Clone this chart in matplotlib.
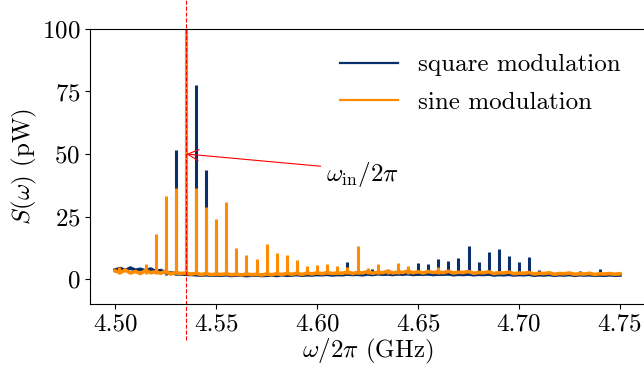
import numpy as np
import matplotlib
matplotlib.use("Agg")
import matplotlib.pyplot as plt

plt.rcParams['font.family'] = 'serif'
plt.rcParams['font.serif'] = ['cmr10']
plt.rcParams['mathtext.fontset'] = 'cm'
plt.rcParams['axes.formatter.use_mathtext'] = True
plt.rcParams['font.size'] = 18

sine_base = [3.2, 2.6, 3.6, 2.4, 3.0, 2.2, 3.4, 2.5, 2.9, 2.3, 3.1, 2.0, 2.6, 2.2, 2.4, 1.9,
             2.3, 1.8, 2.2, 1.7, 2.0, 1.8, 2.1, 1.7, 1.9, 1.6, 2.0, 1.7, 1.9, 1.6, 2.0, 1.7,
             2.1, 1.8, 2.2, 1.9, 2.3, 1.8, 2.4, 2.0, 2.5, 2.1, 2.6, 2.2, 2.4, 2.3, 2.8, 2.2,
             2.6, 2.4, 3.0, 2.3, 2.7, 2.5, 3.1, 2.4, 2.8, 2.6, 3.2, 2.5, 2.9, 2.4, 3.0, 2.6,
             2.8, 2.5, 3.1, 2.4, 2.7, 2.6, 3.0, 2.3, 2.6, 2.5, 2.9, 2.2, 2.5, 2.4, 2.8, 2.1,
             2.4, 2.3, 2.6, 2.0, 2.3, 2.2, 2.5, 1.9, 2.2, 2.1, 2.4, 1.9, 2.1, 2.0, 2.3, 1.8,
             2.1, 2.0, 2.2, 1.9, 2.1]
square_base = [3.6, 4.2, 3.4, 4.4, 3.5, 3.9, 3.2, 4.0, 3.0, 3.4, 2.6, 2.4, 2.2, 2.0, 1.9, 1.8,
               1.7, 1.6, 1.7, 1.5, 1.6, 1.5, 1.7, 1.4, 1.6, 1.5, 1.4, 1.5, 1.6, 1.4, 1.5, 1.6,
               1.4, 1.7, 1.5, 1.6, 1.8, 1.5, 1.7, 1.6, 1.8, 1.7, 1.9, 1.6, 1.8, 1.7, 2.0, 1.8,
               1.9, 1.7, 2.0, 1.8, 2.1, 1.9, 2.0, 1.8, 2.1, 1.9, 2.2, 1.8, 2.0, 1.9, 2.1, 1.8,
               2.0, 1.9, 2.1, 1.7, 1.9, 1.8, 2.0, 1.7, 1.9, 1.8, 2.0, 1.6, 1.8, 1.7, 1.9, 1.6,
               1.8, 1.7, 1.9, 1.5, 1.7, 1.6, 1.8, 1.5, 1.7, 1.6, 1.8, 1.5, 1.7, 1.6, 1.7, 1.5,
               1.6, 1.5, 1.7, 1.5, 1.6]
freq_base = np.linspace(4.50, 4.75, len(sine_base))

# sidebands (GHz) and their peak power (pW)
sine_f = [4.502, 4.515, 4.520, 4.525, 4.530, 4.535, 4.540, 4.545, 4.550, 4.555, 4.560,
          4.565, 4.570, 4.575, 4.580, 4.585, 4.590, 4.595, 4.600, 4.605, 4.610, 4.615,
          4.620, 4.625, 4.630, 4.635, 4.640, 4.645, 4.660]
sine_h = [5.0, 6.2, 18.1, 33.3, 36.6, 105.0, 36.6, 28.7, 23.9, 30.7, 12.6,
          9.8, 8.1, 13.9, 10.4, 9.7, 7.8, 5.4, 5.8, 5.9, 5.4, 4.8,
          13.1, 4.6, 6.2, 4.2, 6.5, 5.2, 4.8]
square_f = [4.525, 4.530, 4.535, 4.540, 4.545, 4.550, 4.555, 4.590, 4.615, 4.627, 4.640,
            4.645, 4.650, 4.655, 4.660, 4.665, 4.670, 4.675, 4.680, 4.685, 4.690, 4.695,
            4.700, 4.705, 4.710, 4.725, 4.730, 4.735, 4.740]
square_h = [8.0, 51.6, 105.0, 77.6, 43.5, 21.0, 8.0, 4.2, 6.9, 4.0, 4.5,
            4.0, 6.5, 6.2, 8.1, 7.4, 8.6, 13.1, 6.9, 11.0, 11.9, 9.4,
            6.9, 9.0, 3.8, 2.9, 3.1, 3.0, 4.0]

f_in = 4.5352

blue = '#0b2f6b'
orange = '#ff8c00'

fig = plt.figure(figsize=(6.44, 3.68), dpi=100)
ax = fig.add_axes([0.1398, 0.1739, 0.8620, 0.7473])

ax.plot(freq_base, square_base, color=blue, lw=2.6, label='square modulation')
ax.vlines(square_f, 1.8, square_h, color=blue, lw=2.2)
ax.plot(freq_base, sine_base, color=orange, lw=2.6, label='sine modulation')
ax.vlines(sine_f, 2.0, sine_h, color=orange, lw=2.2)

ax.axvline(f_in, ymin=-0.13, ymax=1.12, color='red', ls='--', lw=0.8, clip_on=False)

ax.annotate(r'$\omega_{\rm in}/2\pi$', xy=(f_in, 50), xytext=(4.6045, 42),
            ha='left', va='center', fontsize=18,
            arrowprops=dict(arrowstyle='->', color='red', lw=0.8, mutation_scale=20,
                            shrinkA=2, shrinkB=0, relpos=(0, 0.75)))

ax.set_xlim(4.4875, 4.7625)
ax.set_ylim(-10, 100)
ax.set_xticks([4.50, 4.55, 4.60, 4.65, 4.70, 4.75])
ax.set_xticklabels(['4.50', '4.55', '4.60', '4.65', '4.70', '4.75'])
ax.set_yticks([0, 25, 50, 75, 100])
ax.set_xlabel(r'$\omega/2\pi$ (GHz)', labelpad=1)
ax.set_ylabel(r'$S(\omega)$ (pW)', labelpad=2)

leg = ax.legend(loc='upper right', frameon=False, handlelength=2.3, handletextpad=0.8,
                borderaxespad=0.6, labelspacing=0.6, fontsize=18)
for line in leg.get_lines():
    line.set_linewidth(1.6)

fig.savefig('out.png', dpi=100)
